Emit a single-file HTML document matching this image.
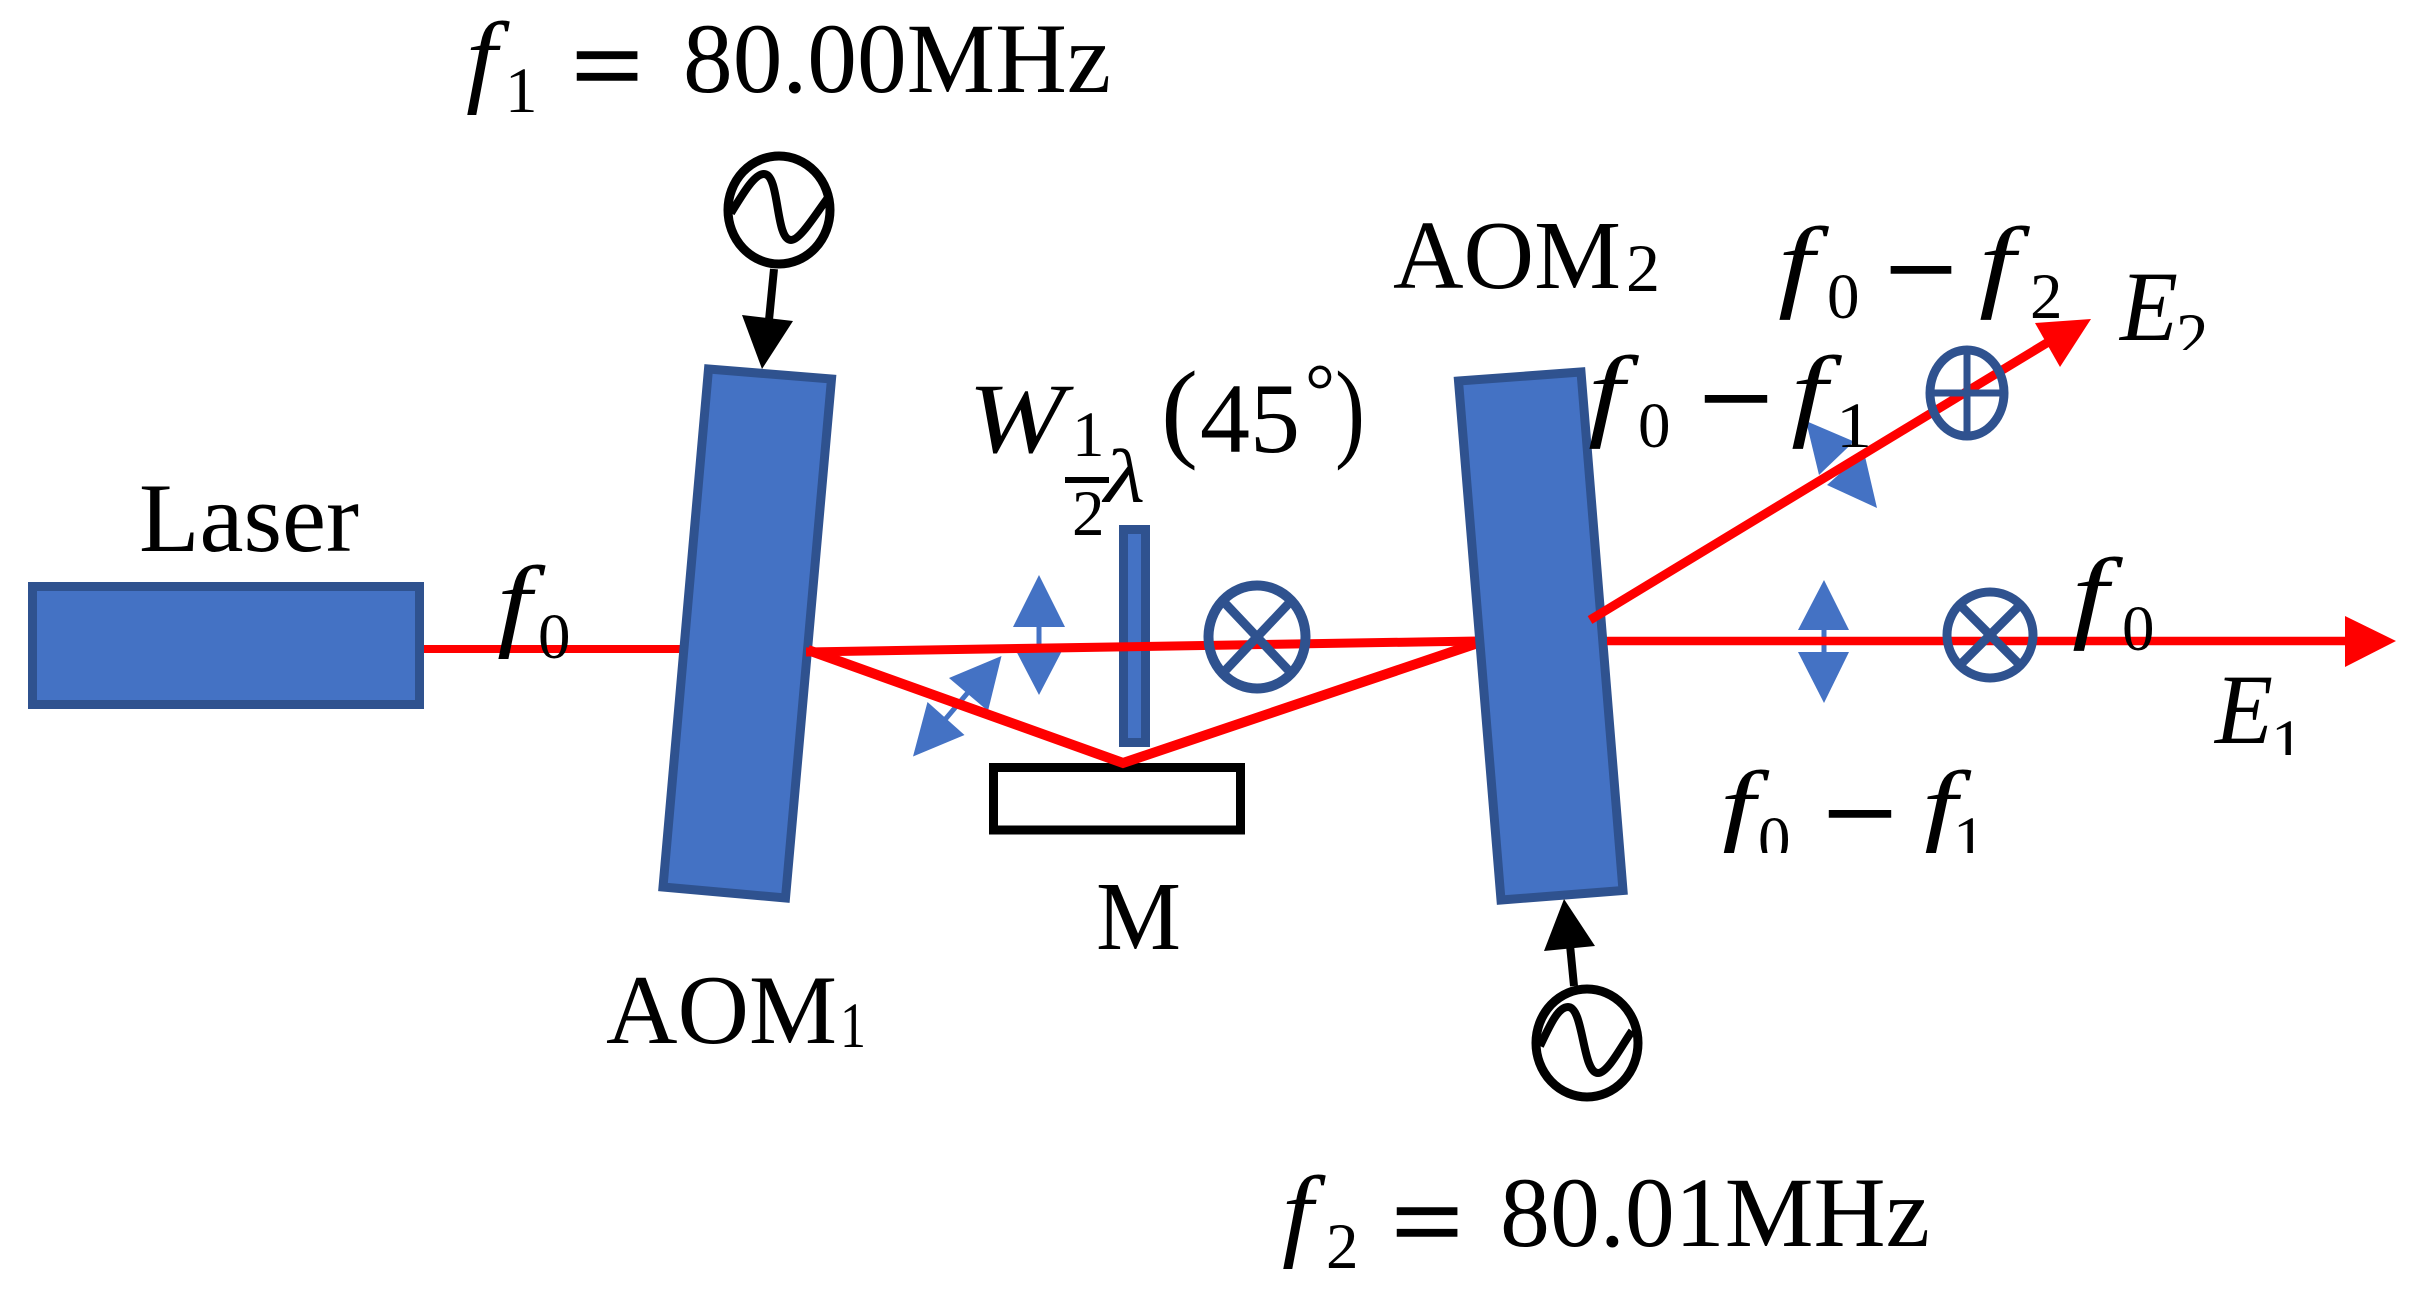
<!DOCTYPE html>
<html>
<head>
<meta charset="utf-8">
<style>
html,body{margin:0;padding:0;background:#fff;width:2419px;height:1301px;overflow:hidden}
svg{display:block}
text{font-family:"Liberation Serif",serif;fill:#000}
.i{font-style:italic}
.s{stroke:#000;stroke-width:2.5px}
</style>
</head>
<body>
<svg width="2419" height="1301" viewBox="0 0 2419 1301" xmlns="http://www.w3.org/2000/svg">
<defs>
<clipPath id="c1"><rect x="2100" y="260" width="130" height="90"/></clipPath>
<clipPath id="c2"><rect x="1700" y="760" width="320" height="93"/></clipPath>
<clipPath id="c3"><rect x="2260" y="700" width="60" height="55"/></clipPath>
</defs>
<rect width="2419" height="1301" fill="#fff"/>

<!-- Blue double arrows under beams -->
<g fill="#4472C4">
<rect x="1036.5" y="620" width="5" height="30"/>
<polygon points="1039,575 1013,627 1065,627"/>
<polygon points="1039,695 1013,645 1065,645"/>
<rect x="1821.5" y="625" width="5" height="30"/>
<polygon points="1824,580 1798,630 1849,630"/>
<polygon points="1824,703 1798,652 1849,652"/>
<polygon points="1001.5,656 949,678 988,711"/>
<polygon points="913,756.5 927.5,702 964.5,735"/>
<line x1="970" y1="690" x2="943" y2="722" stroke="#4472C4" stroke-width="5"/>
<polygon points="1806,421 1854,441.5 1819,475"/>
<polygon points="1877,508 1864,452 1827,485"/>
</g>

<!-- Red beams -->
<line x1="420" y1="649" x2="690" y2="649" stroke="#f00" stroke-width="8"/>

<!-- Laser -->
<rect x="32.5" y="586.5" width="387" height="118" fill="#4472C4" stroke="#2F528F" stroke-width="9"/>

<!-- AOM1 -->
<polygon points="708.5,369 831.5,379 785.5,898 663,887" fill="#4472C4" stroke="#2F528F" stroke-width="9"/>

<!-- Wave plate -->
<rect x="1123.5" y="529.5" width="22" height="213" fill="#4472C4" stroke="#2F528F" stroke-width="9"/>
<line x1="806" y1="652" x2="1478" y2="641" stroke="#f00" stroke-width="9"/>

<!-- Mirror -->
<rect x="993.5" y="767.5" width="247" height="62.5" fill="#fff" stroke="#000" stroke-width="9"/>
<polyline points="808,650 1123,763 1478,643" fill="none" stroke="#f00" stroke-width="10" stroke-miterlimit="10"/>

<!-- AOM2 -->
<polygon points="1458.5,381 1581,372 1623,890.5 1501,900" fill="#4472C4" stroke="#2F528F" stroke-width="9"/>

<!-- Right beams -->
<line x1="1607" y1="641" x2="2350" y2="641" stroke="#f00" stroke-width="8.5"/>
<polygon points="2396,641 2345,616 2345,667" fill="#f00"/>
<line x1="1590" y1="620" x2="2055" y2="338" stroke="#f00" stroke-width="9"/>
<polygon points="2091,319 2035,323 2060,367" fill="#f00"/>

<!-- Polarisation symbols -->
<g fill="none" stroke="#2F528F">
<ellipse cx="1257" cy="637" rx="48.5" ry="51.5" stroke-width="10"/>
<line x1="1222" y1="600" x2="1292" y2="674" stroke-width="9"/>
<line x1="1292" y1="600" x2="1222" y2="674" stroke-width="9"/>
<ellipse cx="1990" cy="635" rx="43" ry="43" stroke-width="9"/>
<line x1="1960" y1="605" x2="2020" y2="665" stroke-width="9"/>
<line x1="2020" y1="605" x2="1960" y2="665" stroke-width="9"/>
<ellipse cx="1967" cy="393" rx="37" ry="43" stroke-width="9"/>
<line x1="1967" y1="350" x2="1967" y2="436" stroke-width="7"/>
<line x1="1930" y1="393" x2="2004" y2="393" stroke-width="7"/>
</g>

<!-- Generators -->
<g fill="none" stroke="#000">
<ellipse cx="779" cy="210" rx="51" ry="54" stroke-width="9"/>
<path d="M731 213 C745 190,755 174,764 174 C780 174,775 240,791 240 C800 240,815 215,827 199" stroke-width="8"/>
<line x1="774" y1="269" x2="769" y2="320" stroke-width="8"/>
<ellipse cx="1587" cy="1043" rx="51" ry="54" stroke-width="9"/>
<path d="M1540 1046 C1550 1025,1558 1007,1568 1007 C1584 1007,1582 1073,1598 1073 C1608 1073,1622 1045,1632 1031" stroke-width="8"/>
<line x1="1574" y1="986" x2="1570" y2="945" stroke-width="8"/>
</g>
<polygon points="762,369 742,315 793,321" fill="#000"/>
<polygon points="1564,899 1544,951 1595,946" fill="#000"/>

<!-- Labels -->
<text x="139" y="551" font-size="99" textLength="220" lengthAdjust="spacingAndGlyphs">Laser</text>

<text class="i" font-size="103" transform="translate(466,93) scale(1.08,1)">f</text>
<text x="505" y="112" font-size="65">1</text>
<text class="s" font-size="108" transform="translate(572,102) scale(1.15,1)">=</text>
<text x="683" y="92" font-size="100" textLength="428" lengthAdjust="spacingAndGlyphs">80.00MHz</text>

<text class="i" font-size="103" transform="translate(497,637) scale(1.2,1)">f</text>
<text x="538" y="658" font-size="65">0</text>

<text class="i" x="968" y="452" font-size="100" textLength="97" lengthAdjust="spacingAndGlyphs">W</text>
<text x="1072" y="456" font-size="65">1</text>
<rect x="1065" y="477" width="44" height="6" fill="#000"/>
<text x="1072" y="535" font-size="65">2</text>
<text class="i" font-size="76" transform="translate(1104,502) scale(1.25,1)">λ</text>
<text x="1161" y="447" font-size="110" textLength="37" lengthAdjust="spacingAndGlyphs">(</text>
<text x="1200" y="452" font-size="100" textLength="100" lengthAdjust="spacingAndGlyphs">45</text>
<text x="1305" y="416" font-size="75">°</text>
<text x="1335" y="447" font-size="110" textLength="30" lengthAdjust="spacingAndGlyphs">)</text>

<text x="1393" y="288" font-size="98" textLength="228" lengthAdjust="spacingAndGlyphs">AOM</text>
<text x="1626" y="291" font-size="68">2</text>

<text x="606" y="1043" font-size="99" textLength="231" lengthAdjust="spacingAndGlyphs">AOM</text>
<text x="840" y="1047" font-size="65" textLength="26" lengthAdjust="spacingAndGlyphs">1</text>

<text x="1096" y="949" font-size="98" textLength="85" lengthAdjust="spacingAndGlyphs">M</text>

<text class="i" font-size="103" transform="translate(1778,298) scale(1.26,1)">f</text>
<text x="1827" y="318" font-size="65">0</text>
<text class="s" x="1886" y="305" font-size="106" textLength="70" lengthAdjust="spacingAndGlyphs">−</text>
<text class="i" font-size="103" transform="translate(1979,298) scale(1.26,1)">f</text>
<text x="2030" y="318" font-size="65">2</text>

<text class="i" x="2120" y="340" font-size="100" textLength="58" lengthAdjust="spacingAndGlyphs">E</text>
<g clip-path="url(#c1)"><text x="2176" y="358" font-size="65">2</text></g>

<text class="i" font-size="103" transform="translate(1588,427) scale(1.26,1)">f</text>
<text x="1638" y="447" font-size="65">0</text>
<text class="s" x="1700" y="434" font-size="106" textLength="72" lengthAdjust="spacingAndGlyphs">−</text>
<text class="i" font-size="103" transform="translate(1791,427) scale(1.26,1)">f</text>
<text x="1836" y="447" font-size="65" textLength="36" lengthAdjust="spacingAndGlyphs">1</text>

<text class="i" font-size="103" transform="translate(2072,629) scale(1.26,1)">f</text>
<text x="2122" y="650" font-size="65">0</text>

<text class="i" x="2215" y="743" font-size="100" textLength="58" lengthAdjust="spacingAndGlyphs">E</text>
<g clip-path="url(#c3)"><text x="2271" y="764" font-size="65">1</text></g>

<g clip-path="url(#c2)">
<text class="i" font-size="103" transform="translate(1720,842) scale(1.22,1)">f</text>
<text x="1758" y="861" font-size="65">0</text>
<text class="s" x="1824" y="849" font-size="106" textLength="72" lengthAdjust="spacingAndGlyphs">−</text>
<text class="i" font-size="103" transform="translate(1922,842) scale(1.22,1)">f</text>
<text x="1953" y="861" font-size="65">1</text>
</g>

<text class="i" font-size="103" transform="translate(1282,1247) scale(1.08,1)">f</text>
<text x="1326" y="1268" font-size="65">2</text>
<text class="s" font-size="108" transform="translate(1392,1258) scale(1.15,1)">=</text>
<text x="1500" y="1246" font-size="100" textLength="430" lengthAdjust="spacingAndGlyphs">80.01MHz</text>
</svg>
</body>
</html>
